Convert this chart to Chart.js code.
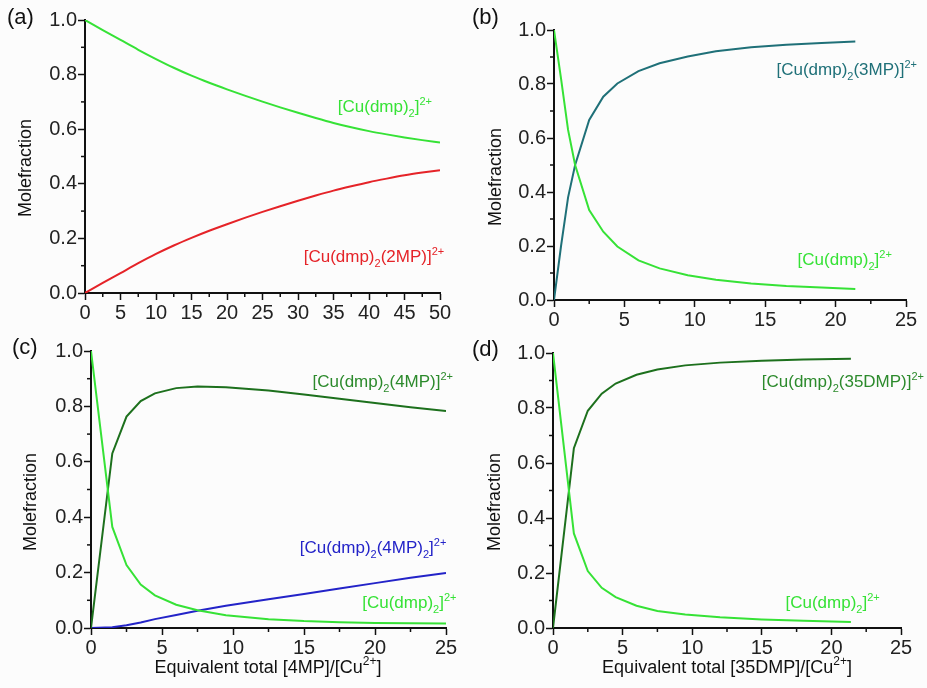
<!DOCTYPE html>
<html>
<head>
<meta charset="utf-8">
<script src="https://cdn.jsdelivr.net/npm/chart.js@4.4.1/dist/chart.umd.min.js"></script>
<style>
  body { margin: 0; background: #fcfcfc; }
  #wrap { position: relative; width: 927px; height: 688px; overflow: hidden; }
  canvas { position: absolute; }
</style>
</head>
<body>
<div id="wrap">
  <canvas id="chartA" width="463" height="330" style="left:0;top:0"></canvas>
  <canvas id="chartB" width="464" height="330" style="left:463px;top:0"></canvas>
  <canvas id="chartC" width="463" height="358" style="left:0;top:330px"></canvas>
  <canvas id="chartD" width="464" height="358" style="left:463px;top:330px"></canvas>
</div>
<script>
// (a) 2MP
const xA = [0, 2.5, 5, 7.5, 10, 12.5, 15, 17.5, 20, 22.5, 25, 27.5, 30, 32.5, 35, 37.5, 40, 42.5, 45, 47.5, 50];
const cuA = [1.0, 0.963, 0.927, 0.891, 0.857, 0.825, 0.796, 0.77, 0.746, 0.723, 0.701, 0.68, 0.66, 0.641, 0.623, 0.607, 0.593, 0.581, 0.57, 0.56, 0.551];
const mp2A = [0, 0.037, 0.073, 0.109, 0.143, 0.174, 0.202, 0.228, 0.252, 0.275, 0.297, 0.318, 0.338, 0.357, 0.375, 0.391, 0.406, 0.419, 0.431, 0.441, 0.45];

// (b) 3MP
const xB = [0, 0.5, 1, 1.5, 2.5, 3.5, 4.5, 6, 7.5, 9.5, 11.5, 14, 16.5, 19, 21.4];
const cuB = [1.0, 0.82, 0.63, 0.5, 0.333, 0.253, 0.198, 0.147, 0.117, 0.092, 0.075, 0.061, 0.052, 0.046, 0.041];
const mp3B = [0, 0.2, 0.38, 0.5, 0.667, 0.753, 0.802, 0.848, 0.877, 0.902, 0.921, 0.936, 0.945, 0.952, 0.957];

// (c) 4MP
const xC = [0, 1.5, 2.5, 3.5, 4.5, 6, 7.5, 9.5, 12.5, 15, 17.5, 20, 22.5, 25];
const cuC = [1.0, 0.365, 0.227, 0.157, 0.118, 0.084, 0.064, 0.046, 0.032, 0.025, 0.021, 0.018, 0.017, 0.016];
const mp4C = [0, 0.63, 0.763, 0.819, 0.847, 0.866, 0.872, 0.869, 0.857, 0.843, 0.828, 0.812, 0.797, 0.783];
const mp4x2C = [0, 0.003, 0.01, 0.02, 0.032, 0.047, 0.062, 0.08, 0.104, 0.123, 0.143, 0.162, 0.181, 0.199];

// (d) 35DMP
const xD = [0, 1.5, 2.5, 3.5, 4.5, 6, 7.5, 9.5, 12, 15, 18, 21.4];
const cuD = [1.0, 0.344, 0.207, 0.146, 0.112, 0.081, 0.062, 0.049, 0.039, 0.031, 0.026, 0.022];
const dmpD = [0, 0.654, 0.79, 0.852, 0.889, 0.921, 0.94, 0.955, 0.965, 0.972, 0.976, 0.979];

const yTicks = [0, 0.2, 0.4, 0.6, 0.8, 1.0];

const FONT = '"Liberation Sans", Arial, sans-serif';
const LIGHT = '#36e236';
const RED = '#e52328';
const TEAL = '#1f7078';
const DARK = '#1d701d';
const DARK_TXT = '#2c8a2c';
const BLUE = '#2323c8';

function pts(xs, ys) {
  return xs.map((x, i) => ({ x: x, y: ys[i] }));
}

// draws text with _{sub} and ^{sup} parts
function drawRich(ctx, str, x, y, size, color, align) {
  const parts = [];
  const re = /([_^])\{([^}]*)\}|([^_^]+)/g;
  let m;
  while ((m = re.exec(str))) {
    if (m[3]) parts.push({ t: m[3], k: 0 });
    else parts.push({ t: m[2], k: m[1] === '_' ? 1 : -1 });
  }
  const small = Math.round(size * 0.66);
  let w = 0;
  parts.forEach(p => {
    ctx.font = (p.k ? small : size) + 'px ' + FONT;
    p.w = ctx.measureText(p.t).width;
    w += p.w;
  });
  let cx = align === 'center' ? x - w / 2 : x;
  ctx.fillStyle = color;
  ctx.textAlign = 'left';
  ctx.textBaseline = 'alphabetic';
  parts.forEach(p => {
    ctx.font = (p.k ? small : size) + 'px ' + FONT;
    const dy = p.k === 1 ? size * 0.3 : p.k === -1 ? -size * 0.42 : 0;
    ctx.fillText(p.t, cx, y + dy);
    cx += p.w;
  });
}

const decor = {
  id: 'decor',
  afterDraw(chart, args, o) {
    const ctx = chart.ctx;
    const xs = chart.scales.x, ys = chart.scales.y;
    ctx.save();
    // minor ticks
    ctx.strokeStyle = '#111';
    ctx.lineWidth = 1.5;
    const xt = xs.ticks.map(t => t.value);
    for (let i = 0; i < xt.length - 1; i++) {
      const px = xs.getPixelForValue((xt[i] + xt[i + 1]) / 2);
      ctx.beginPath();
      ctx.moveTo(px, xs.top);
      ctx.lineTo(px, xs.top + 4);
      ctx.stroke();
    }
    const yt = ys.ticks.map(t => t.value);
    for (let i = 0; i < yt.length - 1; i++) {
      const py = ys.getPixelForValue((yt[i] + yt[i + 1]) / 2);
      ctx.beginPath();
      ctx.moveTo(ys.right, py);
      ctx.lineTo(ys.right - 4, py);
      ctx.stroke();
    }
    // panel letter
    drawRich(ctx, o.letter[0], o.letter[1], o.letter[2], 22, '#111', 'left');
    // y title
    ctx.save();
    ctx.translate(o.yTitle[0], o.yTitle[1]);
    ctx.rotate(-Math.PI / 2);
    drawRich(ctx, 'Molefraction', 0, 6, 18, '#111', 'center');
    ctx.restore();
    if (o.xTitle) drawRich(ctx, o.xTitle[0], o.xTitle[1], o.xTitle[2], 18, '#111', 'center');
    // curve labels placed in data coordinates
    o.labels.forEach(l => {
      drawRich(ctx, l.text, xs.getPixelForValue(l.x), ys.getPixelForValue(l.y), 17, l.color, 'left');
    });
    ctx.restore();
  }
};

function makeChart(id, cfg) {
  const tickFont = { family: FONT, size: 20 };
  new Chart(document.getElementById(id), {
    type: 'line',
    data: { datasets: cfg.sets.map(s => ({
      data: s.data,
      borderColor: s.color,
      borderWidth: 2,
      pointRadius: 0,
      fill: false,
      cubicInterpolationMode: cfg.smooth ? 'monotone' : 'default',
      tension: 0
    })) },
    options: {
      responsive: false,
      animation: false,
      events: [],
      layout: { autoPadding: false, padding: { left: 0, right: cfg.pad[1], top: cfg.pad[0], bottom: 0 } },
      plugins: { legend: { display: false }, tooltip: { enabled: false }, decor: cfg.decor },
      scales: {
        x: {
          type: 'linear', min: 0, max: cfg.xMax,
          afterFit: s => { s.height = cfg.xh; },
          ticks: { stepSize: cfg.xStep, autoSkip: false, maxRotation: 0, padding: 1, color: '#222', font: tickFont },
          grid: { drawOnChartArea: false, tickLength: 7, tickWidth: 1.5, color: '#111' },
          border: { color: '#111', width: 2 }
        },
        y: {
          type: 'linear', min: 0, max: 1,
          afterFit: s => { s.width = cfg.yw; },
          afterBuildTicks: s => { s.ticks = yTicks.map(v => ({ value: v })); },
          ticks: { padding: 1, color: '#222', font: tickFont, callback: v => v.toFixed(1) },
          grid: { drawOnChartArea: false, tickLength: 7, tickWidth: 1.5, color: '#111' },
          border: { color: '#111', width: 2 }
        }
      }
    },
    plugins: [decor]
  });
}

makeChart('chartA', {
  xMax: 50, xStep: 5, xh: 37, yw: 85, pad: [20, 23], smooth: true,
  sets: [
    { data: pts(xA, cuA), color: LIGHT },
    { data: pts(xA, mp2A), color: RED }
  ],
  decor: {
    letter: ['(a)', 7, 24], yTitle: [25, 168],
    labels: [
      { text: '[Cu(dmp)_{2}]^{2+}', x: 35.6, y: 0.663, color: LIGHT },
      { text: '[Cu(dmp)_{2}(2MP)]^{2+}', x: 30.8, y: 0.114, color: RED }
    ]
  }
});

makeChart('chartB', {
  xMax: 25, xStep: 5, xh: 30, yw: 91, pad: [30, 21],
  sets: [
    { data: pts(xB, cuB), color: LIGHT },
    { data: pts(xB, mp3B), color: TEAL }
  ],
  decor: {
    letter: ['(b)', 9, 24], yTitle: [32, 177],
    labels: [
      { text: '[Cu(dmp)_{2}(3MP)]^{2+}', x: 15.8, y: 0.833, color: TEAL },
      { text: '[Cu(dmp)_{2}]^{2+}', x: 17.3, y: 0.13, color: LIGHT }
    ]
  }
});

makeChart('chartC', {
  xMax: 25, xStep: 5, xh: 60, yw: 91, pad: [21, 17],
  sets: [
    { data: pts(xC, cuC), color: LIGHT },
    { data: pts(xC, mp4C), color: DARK },
    { data: pts(xC, mp4x2C), color: BLUE }
  ],
  decor: {
    letter: ['(c)', 12, 24], yTitle: [30, 172],
    xTitle: ['Equivalent total [4MP]/[Cu^{2+}]', 268, 343],
    labels: [
      { text: '[Cu(dmp)_{2}(4MP)]^{2+}', x: 15.6, y: 0.87, color: DARK_TXT },
      { text: '[Cu(dmp)_{2}(4MP)_{2}]^{2+}', x: 14.7, y: 0.271, color: BLUE },
      { text: '[Cu(dmp)_{2}]^{2+}', x: 19.1, y: 0.072, color: LIGHT }
    ]
  }
});

makeChart('chartD', {
  xMax: 25, xStep: 5, xh: 60, yw: 90, pad: [23, 26],
  sets: [
    { data: pts(xD, cuD), color: LIGHT },
    { data: pts(xD, dmpD), color: DARK }
  ],
  decor: {
    letter: ['(d)', 9, 26], yTitle: [31, 172],
    xTitle: ['Equivalent total [35DMP]/[Cu^{2+}]', 264, 343],
    labels: [
      { text: '[Cu(dmp)_{2}(35DMP)]^{2+}', x: 15.0, y: 0.876, color: DARK_TXT },
      { text: '[Cu(dmp)_{2}]^{2+}', x: 16.7, y: 0.073, color: LIGHT }
    ]
  }
});
</script>
</body>
</html>
